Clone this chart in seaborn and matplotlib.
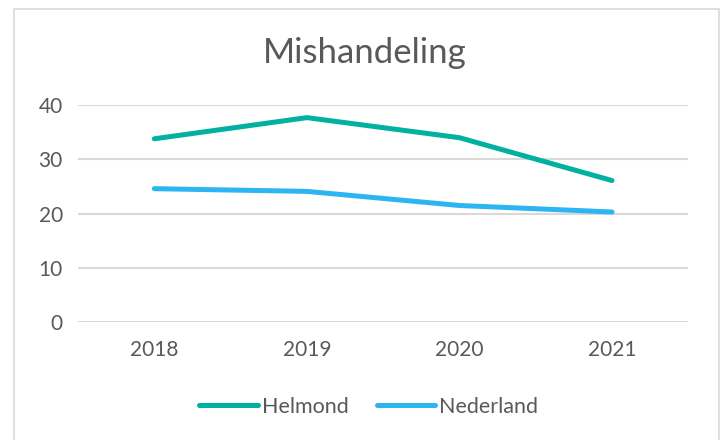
import matplotlib
matplotlib.use('Agg')
import matplotlib.pyplot as plt
import seaborn as sns
import pandas as pd
from matplotlib.patches import Rectangle

years = ['2018', '2019', '2020', '2021']
helmond = [33.8, 37.7, 34.0, 26.1]
nederland = [24.6, 24.1, 21.5, 20.3]
series_names = ['Helmond', 'Nederland']
colors = ['#00B0A0', '#2DB4F2']

df = pd.DataFrame({
    'jaar': years * 2,
    'waarde': helmond + nederland,
    'regio': [series_names[0]] * 4 + [series_names[1]] * 4,
})

sns.set_style('white')
plt.rcParams['font.family'] = ['Lato', 'DejaVu Sans']
text_color = '#595959'

fig = plt.figure(figsize=(7.23, 4.4), dpi=100)
ax = fig.add_axes([0.108, 0.268, 0.844, 0.493])

sns.lineplot(data=df, x='jaar', y='waarde', hue='regio', palette=colors,
             linewidth=3.6, ax=ax, solid_capstyle='round', sort=False)

ax.set_xlim(-0.5, 3.5)
ax.set_ylim(0, 40)
ax.set_yticks([0, 10, 20, 30, 40])
ax.yaxis.grid(True, color='#D9D9D9', linewidth=1.5)
ax.set_axisbelow(True)
for s in ax.spines.values():
    s.set_visible(False)
ax.tick_params(axis='both', length=0, labelsize=15, colors=text_color)
ax.tick_params(axis='x', pad=13)
ax.tick_params(axis='y', pad=11)
ax.set_xlabel('')
ax.set_ylabel('')

fig.text(0.505, 0.88, 'Mishandeling', ha='center', va='center', fontsize=25, color=text_color)

ax.legend(loc='center', bbox_to_anchor=(0.51, 0.075), bbox_transform=fig.transFigure,
          ncol=2, frameon=False, fontsize=15.5, handlelength=2.7, handletextpad=0.2,
          columnspacing=1.3, labelcolor=text_color)
for h in ax.get_legend().get_lines():
    h.set_solid_capstyle('round')

fig.patches.append(Rectangle((14 / 723, -0.01), 705 / 723, 1 - 9 / 440 + 0.01,
                             transform=fig.transFigure, fill=False,
                             edgecolor='#D9D9D9', linewidth=1.2))

fig.savefig('out.png', dpi=100, facecolor='white')
